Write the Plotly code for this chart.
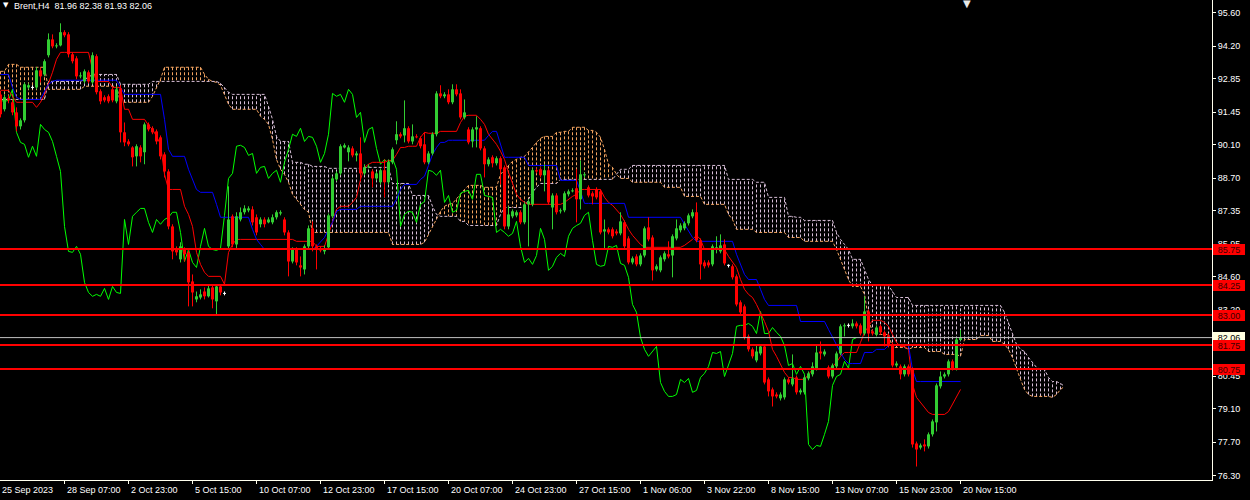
import plotly.graph_objects as go

# ---------------- data (Brent, H4) ----------------
OPEN = [
 92.19, 91.57, 92.03, 91.86, 91.44, 90.86, 91.11, 92.48, 92.48, 92.48,
 93.19, 93.02, 93.82, 94.48, 94.19, 94.23, 94.78, 94.69, 93.86, 93.69,
 92.94, 92.73, 93.11, 92.69, 93.78, 92.32, 92.07, 92.11, 92.40, 91.90,
 92.44, 90.61, 90.23, 89.98, 89.61, 89.98, 89.78, 90.94, 90.78, 90.65,
 90.40, 89.69, 88.98, 86.69, 85.73, 85.32, 85.73, 85.61, 84.40, 83.65,
 83.73, 83.98, 83.78, 84.15, 83.57, 84.19, 83.90, 85.86, 87.11, 85.94,
 86.98, 87.28, 87.36, 87.40, 87.07, 86.78, 86.98, 86.86, 86.86, 87.07,
 87.23, 86.98, 86.44, 85.23, 85.73, 85.07, 84.90, 85.86, 86.61, 85.86,
 85.78, 85.65, 85.82, 87.11, 88.65, 88.90, 89.98, 89.78, 89.94, 89.65,
 89.73, 88.90, 89.15, 88.98, 88.69, 88.53, 89.03, 88.53, 89.36, 90.28,
 90.53, 90.48, 90.78, 90.23, 90.44, 90.36, 90.11, 89.36, 89.73, 90.53,
 92.23, 92.11, 92.19, 91.86, 92.40, 92.23, 91.23, 90.73, 90.23, 90.73,
 90.78, 89.94, 89.28, 89.57, 89.32, 89.53, 89.15, 86.69, 87.11, 87.15,
 87.28, 86.86, 87.61, 87.61, 89.03, 89.07, 88.82, 89.03, 87.48, 87.98,
 87.32, 87.36, 88.03, 88.15, 88.28, 87.82, 88.82, 88.32, 88.07, 88.23,
 88.15, 86.48, 86.57, 86.57, 86.48, 86.40, 86.86, 86.19, 85.19, 85.44,
 85.11, 85.48, 86.65, 86.23, 84.90, 84.86, 85.32, 85.53, 85.48, 86.19,
 86.53, 86.61, 86.82, 87.11, 87.28, 86.11, 85.19, 85.19, 85.11, 85.73,
 85.65, 85.94, 85.07, 85.03, 84.61, 83.53, 83.36, 82.11, 81.57, 81.11,
 81.40, 81.69, 80.32, 79.90, 79.69, 79.53, 79.57, 80.32, 80.11, 80.40,
 79.78, 79.78, 80.36, 80.53, 80.78, 81.48, 81.36, 80.82, 80.44, 80.86,
 81.40, 82.53, 82.57, 82.53, 82.65, 82.57, 82.23, 83.15, 82.32, 82.19,
 82.53, 82.28, 82.15, 81.78, 80.90, 80.86, 80.53, 80.86, 80.73, 77.65,
 77.48, 77.61, 77.53, 78.03, 78.53, 80.03, 80.44, 80.53, 81.07, 80.78,
 81.96]

HIGH = [
 92.32, 92.19, 92.15, 91.98, 91.65, 91.19, 92.69, 92.65, 92.57, 93.32,
 93.32, 93.65, 94.73, 94.69, 94.32, 95.15, 94.86, 94.78, 93.94, 93.78,
 93.11, 93.23, 93.19, 93.94, 93.86, 92.40, 92.15, 92.19, 92.48, 92.53,
 92.57, 91.02, 90.32, 90.03, 90.11, 90.07, 91.02, 91.02, 90.86, 90.73,
 90.48, 89.78, 89.07, 86.78, 85.86, 86.03, 85.82, 85.73, 84.69, 83.98,
 84.07, 84.15, 84.28, 84.28, 84.28, 84.28, 83.98, 88.36, 87.19, 87.28,
 87.48, 87.57, 87.53, 87.53, 87.19, 87.07, 87.07, 87.07, 87.19, 87.36,
 87.36, 87.07, 86.53, 85.82, 85.82, 85.44, 85.94, 86.73, 86.90, 85.94,
 85.86, 85.90, 87.23, 88.78, 88.98, 90.11, 90.15, 90.07, 90.03, 89.82,
 90.40, 89.28, 89.28, 89.07, 88.98, 89.11, 89.48, 89.48, 89.98, 91.07,
 90.61, 91.94, 90.86, 90.94, 90.53, 90.44, 90.61, 89.82, 90.61, 92.32,
 92.57, 92.28, 92.40, 92.61, 92.61, 92.40, 91.98, 90.82, 90.82, 91.28,
 90.86, 90.03, 89.57, 89.65, 89.61, 89.61, 89.23, 87.53, 87.40, 87.36,
 87.36, 87.69, 87.82, 89.11, 89.11, 89.15, 89.28, 89.11, 88.07, 88.07,
 87.44, 88.15, 88.23, 88.28, 89.07, 89.44, 88.94, 88.40, 88.15, 88.32,
 88.23, 86.98, 86.65, 86.65, 86.57, 87.28, 86.94, 86.28, 85.44, 85.53,
 85.57, 86.69, 87.07, 86.32, 85.11, 85.48, 85.65, 86.07, 86.36, 86.98,
 86.82, 86.90, 87.23, 87.40, 87.69, 86.19, 85.28, 85.28, 85.94, 86.28,
 86.36, 86.15, 85.11, 85.11, 84.69, 83.61, 83.44, 82.19, 81.65, 81.78,
 81.78, 81.78, 80.40, 79.98, 79.78, 79.78, 80.40, 80.40, 81.36, 80.48,
 79.94, 80.48, 80.65, 81.03, 81.73, 81.90, 81.57, 80.90, 80.98, 81.48,
 82.61, 82.65, 82.65, 82.82, 82.73, 82.65, 83.78, 83.23, 82.40, 82.57,
 82.61, 82.36, 82.23, 81.86, 81.07, 80.94, 80.94, 80.94, 80.82, 77.73,
 77.65, 77.82, 78.11, 78.65, 80.15, 80.65, 80.61, 81.15, 81.15, 82.07,
 82.38]

LOW = [
 91.23, 91.48, 91.82, 91.32, 90.65, 90.73, 91.02, 92.40, 92.40, 92.40,
 92.69, 92.94, 93.73, 94.11, 94.11, 94.19, 94.57, 93.73, 93.48, 92.82,
 92.86, 92.65, 92.65, 92.61, 92.19, 91.78, 91.86, 91.82, 91.86, 91.82,
 90.19, 90.03, 90.03, 89.19, 89.19, 89.36, 89.28, 90.65, 90.53, 90.11,
 89.48, 88.73, 86.57, 85.32, 85.48, 85.19, 85.23, 83.36, 83.36, 83.53,
 83.65, 83.65, 83.73, 83.28, 83.03, 83.82, 83.82, 85.73, 85.82, 85.73,
 86.90, 87.19, 87.28, 86.73, 86.32, 86.65, 86.65, 86.82, 86.78, 86.98,
 87.15, 86.32, 84.61, 85.15, 85.07, 84.61, 84.69, 85.78, 85.65, 84.90,
 85.61, 85.53, 85.73, 87.03, 88.57, 88.82, 89.94, 89.40, 89.57, 89.40,
 88.57, 88.82, 89.11, 88.32, 88.61, 88.44, 87.90, 88.44, 89.28, 90.11,
 90.36, 90.19, 90.15, 90.11, 90.36, 89.94, 89.28, 89.28, 89.65, 90.44,
 92.03, 92.03, 91.78, 91.78, 92.11, 91.15, 91.15, 90.11, 89.98, 89.98,
 89.86, 88.73, 89.19, 89.15, 89.23, 88.44, 86.57, 86.57, 87.03, 87.07,
 86.78, 86.78, 85.86, 87.53, 88.90, 88.73, 88.15, 87.61, 86.57, 87.19,
 87.23, 87.28, 87.94, 88.11, 86.86, 87.40, 88.73, 87.90, 87.61, 87.82,
 86.36, 85.73, 86.36, 86.19, 86.32, 86.32, 85.78, 85.11, 85.11, 85.03,
 85.03, 85.40, 86.07, 84.44, 84.82, 84.78, 85.23, 85.36, 84.57, 86.11,
 86.44, 86.53, 86.73, 87.03, 86.03, 84.48, 84.94, 84.98, 85.03, 85.57,
 85.57, 85.07, 84.98, 84.48, 83.36, 83.03, 81.98, 81.48, 81.19, 81.03,
 81.32, 80.11, 79.61, 79.19, 79.53, 79.44, 79.48, 80.11, 80.03, 79.69,
 79.69, 79.69, 80.28, 80.44, 80.69, 81.15, 81.28, 80.36, 80.36, 80.78,
 81.32, 82.11, 82.48, 82.44, 82.44, 82.15, 82.15, 81.90, 82.15, 82.11,
 82.19, 81.69, 81.65, 80.82, 80.82, 80.32, 80.44, 80.44, 77.48, 76.69,
 77.40, 77.32, 77.44, 77.94, 78.15, 79.94, 80.36, 80.44, 80.69, 80.69,
 81.93]

CLOSE = [
 91.36, 92.07, 91.94, 91.44, 90.86, 91.11, 92.61, 92.57, 92.48, 93.19,
 92.94, 93.57, 94.48, 94.19, 94.23, 94.78, 94.65, 93.86, 93.57, 92.94,
 92.98, 93.15, 92.73, 93.82, 92.28, 91.90, 91.94, 91.90, 91.94, 92.40,
 90.61, 90.19, 90.11, 89.57, 90.03, 89.61, 90.94, 90.73, 90.61, 90.23,
 89.61, 88.98, 86.69, 85.65, 85.61, 85.86, 85.53, 84.36, 83.94, 83.78,
 83.86, 83.78, 84.11, 83.65, 84.19, 83.94, 83.90, 86.98, 85.94, 87.11,
 87.28, 87.44, 87.44, 86.86, 86.44, 86.98, 86.78, 86.98, 87.07, 87.28,
 87.28, 86.44, 85.23, 85.73, 85.19, 84.98, 85.86, 86.61, 85.86, 85.73,
 85.69, 85.78, 87.15, 88.69, 88.90, 90.03, 90.07, 89.98, 89.65, 89.73,
 88.90, 89.15, 89.19, 88.69, 88.90, 89.03, 88.53, 89.36, 89.90, 90.53,
 90.44, 90.78, 90.23, 90.44, 90.40, 90.03, 89.36, 89.73, 90.53, 92.23,
 92.11, 92.19, 91.86, 92.40, 92.19, 91.23, 91.44, 90.19, 90.73, 90.82,
 89.94, 89.28, 89.48, 89.32, 89.53, 89.07, 86.69, 87.19, 87.32, 87.28,
 86.86, 87.61, 87.73, 89.03, 88.98, 88.82, 89.03, 87.69, 87.98, 87.28,
 87.36, 88.07, 88.15, 88.19, 87.82, 88.86, 88.86, 87.98, 87.94, 87.90,
 86.44, 86.57, 86.44, 86.28, 86.40, 86.90, 85.86, 85.19, 85.36, 85.11,
 85.48, 86.61, 86.15, 84.86, 85.03, 85.40, 85.57, 85.44, 86.28, 86.61,
 86.73, 86.82, 87.15, 87.28, 86.11, 85.11, 85.03, 85.07, 85.86, 85.82,
 85.90, 85.15, 85.07, 84.57, 83.44, 83.11, 82.07, 81.57, 81.28, 81.48,
 81.69, 80.19, 79.82, 79.61, 79.61, 79.69, 80.32, 80.19, 80.36, 79.78,
 79.86, 80.40, 80.57, 80.86, 81.44, 81.40, 81.48, 80.44, 80.90, 81.40,
 82.53, 82.57, 82.57, 82.65, 82.53, 82.23, 83.15, 82.23, 82.23, 82.48,
 82.28, 82.11, 81.73, 80.90, 80.98, 80.53, 80.86, 80.53, 77.61, 77.40,
 77.57, 77.53, 78.03, 78.57, 80.07, 80.44, 80.53, 81.07, 80.78, 81.98,
 82.06]

TENKAN = [
 92.36, 92.36, 92.36, 92.11, 91.86, 91.86, 91.86, 91.86, 91.86, 91.65,
 91.86, 92.19, 92.61, 93.11, 93.65, 93.94, 93.94, 93.94, 93.94, 93.94,
 93.94, 93.94, 93.94, 93.23, 92.73, 92.73, 92.73, 92.73, 92.48, 92.48,
 92.48, 91.57, 91.57, 91.15, 91.15, 91.15, 91.15, 90.90, 90.73, 90.44,
 90.11, 88.86, 88.23, 88.23, 88.23, 88.23, 87.53, 87.19, 86.69, 85.61,
 85.11, 84.78, 84.61, 84.61, 84.61, 84.61, 84.28, 85.61, 85.94, 86.15,
 86.15, 86.15, 86.15, 86.15, 86.15, 86.15, 86.15, 86.15, 86.15, 86.15,
 86.15, 86.15, 86.15, 86.15, 86.07, 86.07, 86.07, 86.07, 86.07, 85.86,
 85.86, 85.86, 86.36, 86.90, 87.40, 87.53, 87.53, 87.53, 87.69, 87.90,
 88.65, 89.15, 89.28, 89.36, 89.36, 89.36, 89.36, 89.44, 89.44, 89.69,
 89.98, 89.98, 90.03, 90.03, 90.03, 90.40, 90.61, 90.57, 90.57, 90.57,
 90.65, 90.65, 90.65, 90.65, 90.65, 91.02, 91.28, 91.32, 91.32, 91.32,
 91.15, 90.94, 90.53, 90.32, 90.11, 89.82, 89.48, 88.94, 88.44, 88.03,
 87.82, 87.69, 87.61, 87.61, 87.61, 87.61, 87.61, 87.61, 87.61, 87.61,
 87.61, 87.69, 87.82, 87.94, 88.03, 88.23, 88.23, 88.23, 88.23, 88.23,
 88.23, 87.90, 87.69, 87.57, 87.40, 87.19, 86.90, 86.57, 86.32, 86.15,
 85.94, 85.82, 85.82, 85.82, 85.82, 85.82, 85.82, 85.82, 85.82, 85.82,
 85.82, 85.90, 86.03, 86.15, 86.32, 86.15, 85.73, 85.73, 85.73, 85.73,
 85.73, 85.73, 85.44, 85.19, 84.98, 84.48, 84.07, 83.86, 83.73, 83.44,
 83.11, 82.73, 82.32, 81.57, 81.28, 80.94, 80.61, 80.40, 80.40, 80.32,
 80.32, 80.32, 80.53, 80.73, 80.73, 80.73, 80.73, 80.73, 80.86, 81.03,
 81.28, 81.44, 81.44, 81.44, 81.44, 81.86, 82.28, 82.53, 82.78, 82.78,
 82.78, 82.69, 82.53, 82.19, 81.86, 81.69, 81.69, 81.57, 80.11, 79.57,
 79.36, 79.15, 78.94, 78.86, 78.86, 78.86, 78.86, 78.98, 79.28, 79.57,
 79.90]

KIJUN = [
 93.02, 93.02, 93.02, 92.48, 92.07, 91.98, 91.98, 91.98, 91.98, 91.98,
 91.98, 92.32, 92.61, 92.73, 92.78, 92.78, 92.78, 92.78, 92.78, 92.78,
 92.78, 92.78, 92.78, 92.78, 92.78, 92.78, 92.78, 92.78, 92.78, 92.78,
 92.48, 92.19, 92.19, 92.19, 92.19, 92.19, 92.19, 92.19, 92.19, 92.19,
 92.19, 91.15, 89.90, 89.61, 89.61, 89.61, 89.61, 89.07, 88.65, 88.23,
 88.11, 88.11, 88.11, 88.11, 87.61, 87.07, 87.07, 87.07, 87.07, 87.07,
 87.07, 87.07, 87.07, 86.57, 86.15, 85.94, 85.73, 85.73, 85.73, 85.73,
 85.73, 85.73, 85.73, 85.73, 85.73, 85.73, 85.73, 85.73, 85.73, 85.86,
 86.03, 86.23, 86.57, 86.86, 87.32, 87.40, 87.40, 87.40, 87.40, 87.40,
 87.53, 87.53, 87.53, 87.53, 87.53, 87.53, 87.53, 87.53, 87.53, 87.82,
 88.23, 88.44, 88.44, 88.44, 88.44, 88.65, 88.78, 89.23, 89.69, 89.98,
 90.19, 90.19, 90.28, 90.28, 90.28, 90.28, 90.28, 90.28, 90.28, 90.28,
 90.28, 90.28, 90.48, 90.65, 90.65, 90.11, 89.57, 89.57, 89.57, 89.57,
 89.57, 89.57, 89.23, 89.23, 89.23, 89.23, 89.23, 89.23, 89.23, 89.23,
 88.61, 88.61, 88.61, 88.61, 88.61, 88.15, 87.65, 87.65, 87.65, 87.65,
 87.65, 87.65, 87.65, 87.65, 87.65, 87.65, 87.65, 87.07, 87.07, 87.07,
 87.07, 87.07, 87.07, 87.07, 87.07, 87.07, 87.07, 87.07, 87.07, 87.07,
 87.07, 86.78, 86.48, 86.23, 86.07, 86.07, 86.07, 86.07, 86.07, 86.07,
 86.07, 86.07, 86.07, 86.07, 85.53, 85.11, 84.69, 84.48, 84.48, 84.48,
 84.07, 83.65, 83.40, 83.40, 83.40, 83.40, 83.40, 83.40, 83.40, 83.40,
 82.73, 82.73, 82.73, 82.73, 82.73, 82.73, 82.73, 82.40, 82.07, 81.73,
 81.44, 81.15, 80.98, 80.98, 80.98, 80.98, 81.44, 81.44, 81.44, 81.57,
 81.57, 81.57, 81.73, 81.73, 81.73, 81.73, 81.73, 81.73, 80.73, 80.23,
 80.23, 80.23, 80.23, 80.23, 80.23, 80.23, 80.23, 80.23, 80.23, 80.23,
 80.23]

SPAN_A = [
 93.15, 93.15, 93.44, 93.44, 93.44, 93.32, 93.32, 93.32, 93.32, 93.32,
 93.32, 93.32, 92.40, 92.40, 92.40, 92.40, 92.40, 92.40, 92.40, 92.40,
 92.40, 92.53, 92.53, 92.53, 92.53, 92.53, 92.53, 92.53, 92.53, 92.53,
 91.86, 91.86, 91.86, 91.86, 91.86, 91.86, 91.86, 91.86, 92.11, 92.48,
 92.82, 93.32, 93.32, 93.32, 93.32, 93.32, 93.32, 93.32, 93.32, 93.32,
 93.32, 93.02, 92.82, 92.73, 92.69, 92.57, 92.19, 91.78, 91.57, 91.57,
 91.57, 91.57, 91.57, 91.57, 91.57, 91.28, 91.15, 90.94, 90.32, 89.48,
 89.07, 88.86, 88.53, 88.03, 87.82, 87.61, 87.40, 87.28, 86.44, 86.44,
 86.44, 86.44, 86.44, 86.44, 86.44, 86.44, 86.44, 86.44, 86.44, 86.44,
 86.44, 86.44, 86.44, 86.44, 86.44, 86.44, 86.44, 86.44, 85.94, 85.94,
 85.94, 85.94, 85.94, 85.94, 85.94, 85.94, 86.03, 86.36, 86.69, 86.98,
 87.32, 87.53, 87.61, 87.65, 87.82, 88.03, 88.23, 88.40, 88.40, 88.40,
 88.40, 88.32, 88.32, 88.32, 88.32, 88.86, 89.07, 89.23, 89.40, 89.48,
 89.57, 89.61, 89.78, 89.98, 90.19, 90.36, 90.44, 90.44, 90.44, 90.61,
 90.61, 90.65, 90.65, 90.82, 90.82, 90.82, 90.82, 90.69, 90.69, 90.61,
 90.40, 89.90, 89.28, 89.15, 88.86, 88.69, 88.69, 88.69, 88.53, 88.53,
 88.53, 88.53, 88.53, 88.53, 88.53, 88.53, 88.32, 88.32, 88.32, 88.32,
 88.32, 87.94, 87.94, 87.94, 87.94, 87.94, 87.61, 87.61, 87.61, 87.61,
 87.61, 87.61, 87.19, 86.98, 86.57, 86.57, 86.57, 86.57, 86.57, 86.44,
 86.44, 86.44, 86.44, 86.44, 86.44, 86.44, 86.44, 86.23, 86.23, 86.23,
 86.23, 86.07, 86.07, 86.07, 86.07, 86.07, 86.07, 86.07, 86.07, 85.73,
 85.32, 84.90, 84.48, 84.19, 84.19, 84.19, 83.86, 82.82, 82.28, 82.19,
 82.19, 82.19, 82.19, 81.65, 81.65, 81.65, 81.65, 81.57, 81.65, 81.65,
 81.65, 81.65, 81.48, 81.48, 81.48, 81.48, 81.36, 81.36, 81.36, 81.36,
 81.28, 81.98, 81.98, 81.98, 81.98, 82.15, 82.15, 82.15, 81.90, 81.90,
 81.90, 81.78, 81.57, 81.23, 80.73, 80.32, 79.90, 79.69, 79.61, 79.61,
 79.61, 79.61, 79.61, 79.57, 79.69, 79.90, 80.03]

SPAN_B = [
 91.98, 91.98, 91.98, 91.98, 91.98, 91.98, 91.98, 91.98, 91.98, 91.98,
 91.98, 91.98, 92.73, 92.73, 92.73, 92.73, 92.73, 92.73, 92.73, 92.73,
 92.73, 92.82, 92.90, 93.02, 93.02, 93.02, 93.02, 93.02, 93.02, 93.02,
 92.61, 92.61, 92.61, 92.61, 92.61, 92.61, 92.61, 92.61, 92.73, 92.73,
 92.73, 92.73, 92.73, 92.73, 92.73, 92.73, 92.73, 92.73, 92.73, 92.73,
 92.73, 92.73, 92.73, 92.73, 92.73, 92.65, 92.48, 92.28, 92.19, 92.19,
 92.19, 92.19, 92.19, 92.19, 92.19, 92.19, 92.19, 91.69, 91.15, 90.44,
 90.23, 90.23, 90.23, 89.36, 89.36, 89.36, 89.28, 89.28, 89.19, 89.19,
 89.19, 89.19, 89.11, 89.11, 89.11, 89.11, 89.11, 89.11, 89.11, 89.11,
 89.11, 89.15, 89.15, 89.15, 89.15, 89.15, 89.15, 89.15, 88.48, 88.48,
 88.48, 88.48, 88.48, 87.98, 87.98, 87.98, 87.98, 87.98, 87.53, 87.19,
 87.11, 87.11, 87.11, 87.11, 87.11, 86.90, 86.90, 86.73, 86.73, 86.73,
 86.73, 86.73, 86.73, 86.73, 86.73, 87.19, 87.48, 87.48, 87.48, 87.48,
 87.48, 87.48, 87.82, 88.11, 88.32, 88.48, 88.48, 88.48, 88.48, 88.48,
 88.65, 88.65, 88.65, 88.65, 88.65, 88.65, 88.65, 88.65, 88.65, 88.65,
 88.65, 88.65, 88.65, 88.65, 88.86, 89.07, 89.07, 89.07, 89.23, 89.23,
 89.23, 89.23, 89.23, 89.23, 89.23, 89.23, 89.23, 89.23, 89.23, 89.23,
 89.23, 89.23, 89.23, 89.23, 89.23, 89.23, 89.23, 89.23, 89.23, 89.23,
 89.23, 89.23, 88.65, 88.65, 88.65, 88.65, 88.65, 88.65, 88.65, 88.53,
 88.53, 88.53, 87.90, 87.90, 87.90, 87.90, 87.90, 87.11, 87.11, 87.07,
 87.07, 86.94, 86.94, 86.94, 86.94, 86.94, 86.94, 86.94, 86.94, 86.44,
 86.15, 85.94, 85.73, 85.32, 85.32, 85.32, 84.90, 84.48, 84.23, 84.23,
 84.23, 84.23, 84.23, 83.98, 83.73, 83.73, 83.73, 83.73, 83.40, 83.40,
 83.40, 83.40, 83.40, 83.40, 83.40, 83.40, 83.40, 83.40, 83.40, 83.40,
 83.40, 83.40, 83.40, 83.40, 83.40, 83.40, 83.40, 83.40, 83.40, 83.40,
 83.40, 83.11, 82.69, 82.19, 81.78, 81.57, 81.48, 81.23, 81.03, 80.82,
 80.73, 80.73, 80.40, 80.23, 80.23, 80.15, 80.03]

CHIKOU_SHIFT = 26
LEVELS = [85.75, 84.25, 83.00, 81.75, 80.75]
BID = 82.06
HEADER = "Brent,H4  81.96 82.38 81.93 82.06"

Y_TICKS = [95.60, 94.20, 92.85, 91.45, 90.10, 88.70, 87.35, 85.95, 84.60,
           83.20, 81.85, 80.45, 79.10, 77.70, 76.30]
FIRST_LABEL = "25 Sep 2023"
X_TICK_BARS = [16, 32, 48, 64, 80, 96, 112, 128, 144, 160, 176, 192, 208, 224, 240]
X_TICK_LABELS = ["28 Sep 07:00", "2 Oct 23:00", "5 Oct 15:00", "10 Oct 07:00",
                 "12 Oct 23:00", "17 Oct 15:00", "20 Oct 07:00", "24 Oct 23:00",
                 "27 Oct 15:00", "1 Nov 06:00", "3 Nov 22:00", "8 Nov 15:00",
                 "13 Nov 07:00", "15 Nov 23:00", "20 Nov 15:00"]

# ---------------- styling ----------------
BULL = "#32CD32"
BEAR = "#FF0000"
DOJI = "#FFFFFF"
FG = "#FFFFEE"
FONT = "Liberation Sans, Arial, sans-serif"

n = min(len(OPEN), len(HIGH), len(LOW), len(CLOSE))
bars = list(range(n))

fig = go.Figure()


def add_segments(xs, y0s, y1s, color, width, dash=None):
    X, Y = [], []
    for x, a, b in zip(xs, y0s, y1s):
        X += [x, x, None]
        Y += [a, b, None]
    line = dict(color=color, width=width)
    if dash:
        line["dash"] = dash
    fig.add_trace(go.Scatter(x=X, y=Y, mode="lines", line=line,
                             hoverinfo="skip", showlegend=False))


# Ichimoku cloud hatch (vertical dotted lines between the spans)
cloud_n = min(len(SPAN_A), len(SPAN_B))
up_idx = [i for i in range(cloud_n) if SPAN_A[i] >= SPAN_B[i]]
dn_idx = [i for i in range(cloud_n) if SPAN_A[i] < SPAN_B[i]]
add_segments(up_idx, [SPAN_A[i] for i in up_idx], [SPAN_B[i] for i in up_idx],
             "#F4A460", 1, "3px,2px")
add_segments(dn_idx, [SPAN_A[i] for i in dn_idx], [SPAN_B[i] for i in dn_idx],
             "#D8BFD8", 1, "3px,2px")

# span borders
fig.add_trace(go.Scatter(x=list(range(len(SPAN_A))), y=SPAN_A, mode="lines",
                         line=dict(color="#F4A460", width=1, dash="3px,2px"),
                         hoverinfo="skip", showlegend=False))
fig.add_trace(go.Scatter(x=list(range(len(SPAN_B))), y=SPAN_B, mode="lines",
                         line=dict(color="#D8BFD8", width=1, dash="3px,2px"),
                         hoverinfo="skip", showlegend=False))

# Chikou span: close plotted 26 bars back
fig.add_trace(go.Scatter(x=[i - CHIKOU_SHIFT for i in range(CHIKOU_SHIFT, n)],
                         y=CLOSE[CHIKOU_SHIFT:n], mode="lines",
                         line=dict(color="#00FF00", width=1),
                         hoverinfo="skip", showlegend=False))
# Tenkan / Kijun
fig.add_trace(go.Scatter(x=list(range(len(TENKAN))), y=TENKAN, mode="lines",
                         line=dict(color="#FF0000", width=1),
                         hoverinfo="skip", showlegend=False))
fig.add_trace(go.Scatter(x=list(range(len(KIJUN))), y=KIJUN, mode="lines",
                         line=dict(color="#0000FF", width=1),
                         hoverinfo="skip", showlegend=False))

# candles
bull = [i for i in bars if CLOSE[i] > OPEN[i]]
bear = [i for i in bars if CLOSE[i] < OPEN[i]]
doji = [i for i in bars if CLOSE[i] == OPEN[i]]

add_segments(bull, [LOW[i] for i in bull], [HIGH[i] for i in bull], BULL, 1)
add_segments(bear, [LOW[i] for i in bear], [HIGH[i] for i in bear], BEAR, 1)
add_segments(doji, [LOW[i] for i in doji], [HIGH[i] for i in doji], DOJI, 1)
add_segments(bull, [OPEN[i] for i in bull], [CLOSE[i] for i in bull], BULL, 3)
add_segments(bear, [OPEN[i] for i in bear], [CLOSE[i] for i in bear], BEAR, 3)
# doji bodies: short horizontal ticks
dx, dy = [], []
for i in doji:
    dx += [i - 0.375, i + 0.375, None]
    dy += [OPEN[i], OPEN[i], None]
fig.add_trace(go.Scatter(x=dx, y=dy, mode="lines", line=dict(color=DOJI, width=1),
                         hoverinfo="skip", showlegend=False))

# horizontal levels
fig.add_shape(type="line", xref="paper", x0=0, x1=1, yref="y", y0=BID, y1=BID,
              line=dict(color="#C0C0C0", width=1), layer="above")
for lv in LEVELS:
    fig.add_shape(type="line", xref="paper", x0=0, x1=1, yref="y", y0=lv, y1=lv,
                  line=dict(color="#FF0000", width=2), layer="above")

# price labels on the axis
fig.add_annotation(xref="paper", x=1, xanchor="left", xshift=1, yref="y", y=BID,
                   yanchor="middle", text=f"{BID:.2f}", showarrow=False,
                   bgcolor="#FFFFE0", font=dict(family=FONT, size=9, color="#000000"),
                   borderpad=1, borderwidth=0, width=30, height=9, align="center")
for lv in LEVELS:
    fig.add_annotation(xref="paper", x=1, xanchor="left", xshift=1, yref="y", y=lv,
                       yanchor="middle", text=f"{lv:.2f}", showarrow=False,
                       bgcolor="#FF0000", font=dict(family=FONT, size=9, color="#3A0000"),
                       borderpad=1, borderwidth=0, width=30, height=9, align="center")

# time labels (left-aligned after tick, MT4 style)
fig.add_annotation(x=0, xref="x", y=0, yref="paper", xanchor="left", yanchor="top",
                   yshift=-3, xshift=-1, text=FIRST_LABEL, showarrow=False,
                   font=dict(family=FONT, size=9, color="#FFFFFF"))
for b, t in zip(X_TICK_BARS, X_TICK_LABELS):
    fig.add_annotation(x=b, xref="x", y=0, yref="paper", xanchor="left", yanchor="top",
                       yshift=-3, xshift=0, text=t, showarrow=False,
                       font=dict(family=FONT, size=9, color="#FFFFFF"))

# header
fig.add_annotation(xref="paper", x=0, y=1, yref="paper", xanchor="left", yanchor="top",
                   xshift=1, yshift=1, text="▼", showarrow=False,
                   font=dict(family="DejaVu Sans", size=7, color="#FFFFFF"))
fig.add_annotation(xref="paper", x=0, y=1, yref="paper", xanchor="left", yanchor="top",
                   xshift=12, yshift=1, text=HEADER, showarrow=False,
                   font=dict(family=FONT, size=9, color="#FFFFFF"))
# chart shift marker
fig.add_annotation(xref="paper", x=0.798, y=1, yref="paper", xanchor="center",
                   yanchor="top", yshift=4, text="▼", showarrow=False,
                   font=dict(family="DejaVu Sans", size=10, color="#E8E8E8"))

fig.update_layout(
    width=1250, height=500,
    margin=dict(l=0, r=38, t=0, b=20, pad=0, autoexpand=False),
    paper_bgcolor="#000000", plot_bgcolor="#000000",
    showlegend=False,
    font=dict(family=FONT, size=9, color="#FFFFFF"),
    xaxis=dict(range=[-0.125, 302.875], showgrid=False, zeroline=False,
               tickvals=X_TICK_BARS, showticklabels=False, ticks="outside",
               ticklen=3, tickcolor=FG, showline=True, linecolor=FG, linewidth=1,
               fixedrange=True, automargin=False),
    yaxis=dict(range=[76.129, 96.121], side="right", showgrid=False, zeroline=False,
               tickvals=Y_TICKS, ticktext=[f"{v:.2f}" for v in Y_TICKS],
               ticks="outside", ticklen=3, tickcolor=FG, showline=True,
               linecolor=FG, linewidth=1, automargin=False,
               tickfont=dict(family=FONT, size=9, color="#FFFFFF"), fixedrange=True),
)

fig.write_html(
    "out.html",
    config={"displayModeBar": False},
    post_script="document.body.style.margin='0';document.body.style.overflow='hidden';"
                "document.body.style.background='#000';",
)
